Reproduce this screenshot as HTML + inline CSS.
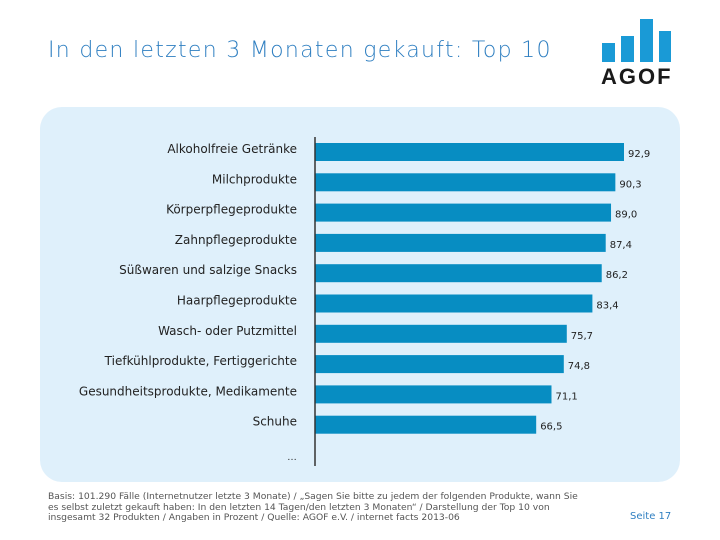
<!DOCTYPE html>
<html><head><meta charset="utf-8"><style>
body{margin:0;width:720px;height:540px;background:#fff;position:relative;overflow:hidden;font-family:"Liberation Sans","DejaVu Sans",sans-serif}
.t{position:absolute;white-space:nowrap}
</style></head><body>
<div class="t" style="left:48px;top:38px;font-size:22px;color:#2f7fc1;font-family:'DejaVu Sans',sans-serif;font-weight:300;letter-spacing:1.3px">In den letzten 3 Monaten gekauft: Top 10</div>
<svg style="position:absolute;left:595px;top:15px" width="85" height="75">
<rect x="7" y="28" width="13" height="19" fill="#1a9ad6"/><rect x="26" y="21" width="13" height="26" fill="#1a9ad6"/><rect x="45" y="4" width="13" height="43" fill="#1a9ad6"/><rect x="64" y="16" width="12" height="31" fill="#1a9ad6"/>
<text x="6" y="69" font-size="22" font-weight="bold" fill="#1a1a1a" font-family="Liberation Sans,sans-serif" letter-spacing="2">AGOF</text>
</svg>
<div style="position:absolute;left:40px;top:107px;width:640px;height:375px;background:#dff0fb;border-radius:22px"></div>
<svg id="chart" style="position:absolute;left:0;top:0" width="720" height="540"></svg>
<div class="t" style="left:48px;top:492px;font-size:9.2px;line-height:10.5px;color:#555;font-family:'DejaVu Sans',sans-serif">Basis: 101.290 Fälle (Internetnutzer letzte 3 Monate) / „Sagen Sie bitte zu jedem der folgenden Produkte, wann Sie<br>es selbst zuletzt gekauft haben: In den letzten 14 Tagen/den letzten 3 Monaten“ / Darstellung der Top 10 von<br>insgesamt 32 Produkten / Angaben in Prozent / Quelle: AGOF e.V. / internet facts 2013-06</div>
<div class="t" style="left:630px;top:511px;font-size:10px;color:#2f7fc1;font-family:'DejaVu Sans',sans-serif">Seite 17</div>
<script>
const categories=["Alkoholfreie Getränke","Milchprodukte","Körperpflegeprodukte","Zahnpflegeprodukte","Süßwaren und salzige Snacks","Haarpflegeprodukte","Wasch- oder Putzmittel","Tiefkühlprodukte, Fertiggerichte","Gesundheitsprodukte, Medikamente","Schuhe"];
const values=[92.9,90.3,89.0,87.4,86.2,83.4,75.7,74.8,71.1,66.5];
const labels=["92,9","90,3","89,0","87,4","86,2","83,4","75,7","74,8","71,1","66,5"];
const svg=document.getElementById('chart');const NS='http://www.w3.org/2000/svg';
const x0=315,scale=(624-315)/92.9;
const xs=v=>x0+v*scale;
const yb=i=>143+i*30.3;
function mk(t,a){const e=document.createElementNS(NS,t);for(const k in a)e.setAttribute(k,a[k]);svg.appendChild(e);return e;}
values.forEach((v,i)=>{
 const r=mk('rect',{x:x0,y:yb(i),width:xs(v)-x0,height:18,fill:'#078dc2'});
 
 
 const c=mk('text',{x:297,y:yb(i)+10,'text-anchor':'end','font-size':12,fill:'#222','font-family':'DejaVu Sans,sans-serif'});
 c.textContent=categories[i];
 
 
 const l=mk('text',{x:xs(v)+4,y:yb(i)+14,'font-size':10,fill:'#222','font-family':'DejaVu Sans,sans-serif'});
 l.textContent=labels[i];
 
 
});
const ax=mk('line',{x1:x0,y1:137,x2:x0,y2:466,stroke:'#333','stroke-width':1.5});


const d=mk('text',{x:297,y:460,'text-anchor':'end','font-size':10,fill:'#222'});
d.textContent='…';


</script>
</body></html>
